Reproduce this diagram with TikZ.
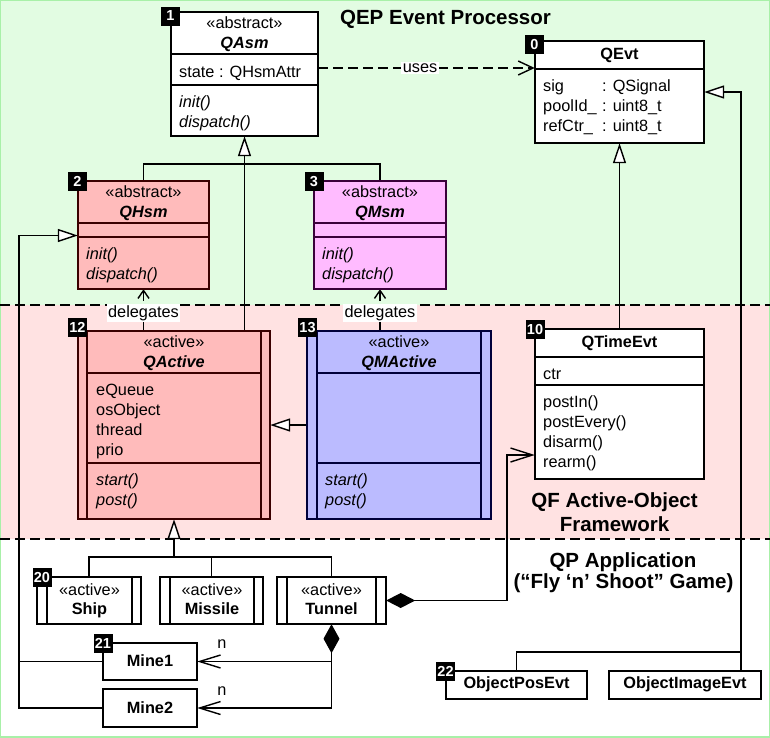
\documentclass[tikz,border=0pt]{standalone}
\usepackage{fontspec}
\setmainfont{Liberation Sans}
\usetikzlibrary{arrows.meta,fit}
\definecolor{bggreen}{HTML}{E2FCE2}
\definecolor{bgpink}{HTML}{FFE2E2}
\definecolor{bgborder}{HTML}{A8F0A8}
\definecolor{hsmfill}{HTML}{FFBBBB}
\definecolor{hsmline}{HTML}{3A0000}
\definecolor{msmfill}{HTML}{FFBBFF}
\definecolor{msmline}{HTML}{3A003A}
\definecolor{mafill}{HTML}{BBBBFF}
\definecolor{maline}{HTML}{00003A}
\newcommand\txtf{\fontsize{16.3}{20}\selectfont}
\newcommand\ttlf{\fontsize{20.5}{24}\selectfont\bfseries}
\newcommand\bdgf{\fontsize{14.5}{15}\selectfont\bfseries}
\newcommand\myTxLine[4][]{\node[txt,anchor=base west,#1] (#2) at #3 {#4};}
\newcommand\myCtLine[4][]{\node[txt,anchor=base,#1] (#2) at #3 {#4};}
\begin{document}
\begin{tikzpicture}[x=1pt,y=-1pt,line join=miter,
  txt/.style={inner sep=0pt,font=\txtf},
  lbl/.style={fill=white,inner sep=1.5pt,font=\txtf},
  ttl/.style={inner sep=0pt,font=\ttlf,anchor=base},
  badge/.style={fill=black,text=white,font=\bdgf,minimum size=19pt,inner sep=0pt},
  cls/.style={draw,line width=1.5pt,inner sep=0pt,fill=white},
  comp/.style={line width=1.3pt},
  conn/.style={line width=1.4pt},
  dsh/.style={dash pattern=on 10pt off 5pt},
  sepline/.style={line width=1.5pt,dash pattern=on 10pt off 5pt},
  inh/.style={conn,-{Triangle[fill=white,length=20pt,width=13pt]}},
]
\useasboundingbox (0,0) rectangle (770,737);
% regions
\fill[bggreen] (0,0) rectangle (770,305);
\fill[bgpink] (0,305) rectangle (770,539);
\fill[white] (0,539) rectangle (770,737);
\draw[bgborder,line width=2pt] (0,0) rectangle (770,737);
\draw[sepline] (0,305) -- (770,305);
\draw[sepline] (0,539) -- (770,539);

% titles
\node[ttl] (tqep) at (445.5,24) {QEP Event Processor};
\node[ttl] (tqf1) at (614.5,507) {QF Active-Object};
\node[ttl] (tqf2) at (614.5,531) {Framework};
\node[ttl] (tqp1) at (623,567) {QP Application};
\node[ttl] (tqp2) at (623.5,588) {(“Fly ‘n’ Shoot” Game)};

% box frames
\node[fit={(171,12)(318,136)},inner sep=0pt] (qasm) {};
\node[fit={(535,41)(704,143)},inner sep=0pt] (qevt) {};
\node[fit={(78,181)(209,289)},inner sep=0pt] (qhsm) {};
\node[fit={(314,181)(446,289)},inner sep=0pt] (qmsm) {};
\node[fit={(78,331)(270,519)},inner sep=0pt] (qactive) {};
\node[fit={(307,331)(491,519)},inner sep=0pt] (qmactive) {};
\node[fit={(535,329)(704,479)},inner sep=0pt] (qtime) {};
\node[fit={(37,577)(141,624)},inner sep=0pt] (ship) {};
\node[fit={(160,577)(263,624)},inner sep=0pt] (missile) {};
\node[fit={(277,577)(386,624)},inner sep=0pt] (tunnel) {};
\node[fit={(103,643)(197,680)},inner sep=0pt] (mine1) {};
\node[fit={(103,689)(197,727)},inner sep=0pt] (mine2) {};
\node[fit={(446,671)(587,699)},inner sep=0pt] (objpos) {};
\node[fit={(609,671)(761,699)},inner sep=0pt] (objimg) {};

% connectors
\draw[conn,dsh,-{Straight Barb[length=15pt,width=14pt]}] (qasm.east |- 0,68) -- node[lbl,pos=0.47] (uses) {uses} (qevt.west |- 0,68);
\coordinate (j1) at (244,164);
\draw[inh] (qactive.north -| qasm.south) -- (qasm.south);
\draw[conn] (qhsm.north) |- (j1) -| (qmsm.north);
\draw[conn,dsh,-{Straight Barb[length=8pt,width=11pt]}] (qactive.north -| qhsm.south) -- node[lbl,pos=0.42] (del1) {delegates} (qhsm.south);
\draw[conn,dsh,-{Straight Barb[length=8pt,width=11pt]}] (qmactive.north -| qmsm.south) -- node[lbl,pos=0.42] (del2) {delegates} (qmsm.south);
\draw[inh] (qmactive.west) -- (qactive.east);
\draw[inh] (qtime.north) -- (qevt.south);
\coordinate (rj) at (741,652);
\coordinate (rt) at (741,92);
\draw[conn] (objpos.north) |- (rj) -- (rj |- objimg.north);
\draw[inh] (rj) -- (rt) -- (rt -| qevt.east);
\coordinate (j2) at (174,557);
\draw[inh] (j2) -- (qactive.south);
\draw[conn] (ship.north) |- (j2) -| (tunnel.north);
\draw[conn] (missile.north) -- (missile.north |- j2);
\draw[conn,{Diamond[length=29pt,width=16pt]}-{Straight Barb[length=21pt,width=13pt]}] (tunnel.south) |- (mine2.east);
\draw[conn,-{Straight Barb[length=21pt,width=13pt]}] (tunnel.south |- mine1.east) -- (mine1.east);
\node[txt] (n1) at (222,644) {n};
\node[txt] (n2) at (222,691) {n};
\coordinate (tq) at (507,455);
\draw[conn,{Diamond[length=29pt,width=15pt]}-{Straight Barb[length=22pt,width=14pt]}] (tunnel.east) -| (tq) -- (tq -| qtime.west);
\coordinate (lt) at (19,235.5);
\draw[inh] (mine2.west) -| (lt) -- (lt -| qhsm.west);
\draw[conn] (mine1.west) -- (mine1.west -| lt);

% ---- boxes
% QAsm
\draw[cls] (qasm.north west) rectangle (qasm.south east);
\draw[comp] (qasm.west |- 0,54) -- (qasm.east |- 0,54);
\draw[comp] (qasm.west |- 0,85) -- (qasm.east |- 0,85);
\myCtLine{qasm-s}{(244.5,28)}{«abstract»}
\myCtLine{qasm-n}{(244.5,48)}{\bfseries\itshape QAsm}
\myTxLine{qasm-a}{(179,77)}{state : QHsmAttr}
\myTxLine{qasm-m1}{(179,107)}{\itshape init()}
\myTxLine{qasm-m2}{(179,127)}{\itshape dispatch()}
% QEvt
\draw[cls] (qevt.north west) rectangle (qevt.south east);
\draw[comp] (qevt.west |- 0,69) -- (qevt.east |- 0,69);
\myCtLine{qevt-n}{(619.5,59)}{\bfseries QEvt}
\myTxLine{qevt-a1}{(543,91.5)}{\makebox[59pt][l]{sig}: QSignal}
\myTxLine{qevt-a2}{(543,111.5)}{\makebox[59pt][l]{poolId\_}: uint8\_t}
\myTxLine{qevt-a3}{(543,131.5)}{\makebox[59pt][l]{refCtr\_}: uint8\_t}
% QHsm
\draw[cls,fill=hsmfill,draw=hsmline] (qhsm.north west) rectangle (qhsm.south east);
\draw[comp,hsmline] (qhsm.west |- 0,223) -- (qhsm.east |- 0,223);
\draw[comp,hsmline] (qhsm.west |- 0,237) -- (qhsm.east |- 0,237);
\myCtLine{qhsm-s}{(143.5,197)}{«abstract»}
\myCtLine{qhsm-n}{(143.5,217)}{\bfseries\itshape QHsm}
\myTxLine{qhsm-m1}{(86,259)}{\itshape init()}
\myTxLine{qhsm-m2}{(86,279)}{\itshape dispatch()}
% QMsm
\draw[cls,fill=msmfill,draw=msmline] (qmsm.north west) rectangle (qmsm.south east);
\draw[comp,msmline] (qmsm.west |- 0,223) -- (qmsm.east |- 0,223);
\draw[comp,msmline] (qmsm.west |- 0,237) -- (qmsm.east |- 0,237);
\myCtLine{qmsm-s}{(380,197)}{«abstract»}
\myCtLine{qmsm-n}{(380,217)}{\bfseries\itshape QMsm}
\myTxLine{qmsm-m1}{(322,259)}{\itshape init()}
\myTxLine{qmsm-m2}{(322,279)}{\itshape dispatch()}
% QActive
\draw[cls,fill=hsmfill,draw=hsmline] (qactive.north west) rectangle (qactive.south east);
\draw[comp,hsmline] (87,331) -- (87,519);
\draw[comp,hsmline] (261,331) -- (261,519);
\draw[comp,hsmline] (87,373) -- (261,373);
\draw[comp,hsmline] (87,463) -- (261,463);
\myCtLine{qact-s}{(174,347)}{«active»}
\myCtLine{qact-n}{(174,367)}{\bfseries\itshape QActive}
\myTxLine{qact-a1}{(96,395.5)}{eQueue}
\myTxLine{qact-a2}{(96,415.5)}{osObject}
\myTxLine{qact-a3}{(96,435.5)}{thread}
\myTxLine{qact-a4}{(96,455.5)}{prio}
\myTxLine{qact-m1}{(96,485)}{\itshape start()}
\myTxLine{qact-m2}{(96,505)}{\itshape post()}
% QMActive
\draw[cls,fill=mafill,draw=maline] (qmactive.north west) rectangle (qmactive.south east);
\draw[comp,maline] (317,331) -- (317,519);
\draw[comp,maline] (481,331) -- (481,519);
\draw[comp,maline] (317,373) -- (481,373);
\draw[comp,maline] (317,463) -- (481,463);
\myCtLine{qma-s}{(399,347)}{«active»}
\myCtLine{qma-n}{(399,367)}{\bfseries\itshape QMActive}
\myTxLine{qma-m1}{(325,485)}{\itshape start()}
\myTxLine{qma-m2}{(325,505)}{\itshape post()}
% QTimeEvt
\draw[cls] (qtime.north west) rectangle (qtime.south east);
\draw[comp] (qtime.west |- 0,357) -- (qtime.east |- 0,357);
\draw[comp] (qtime.west |- 0,385) -- (qtime.east |- 0,385);
\myCtLine{qtime-n}{(619.5,347)}{\bfseries QTimeEvt}
\myTxLine{qtime-a}{(543,379.5)}{ctr}
\myTxLine{qtime-m1}{(543,407.5)}{postIn()}
\myTxLine{qtime-m2}{(543,427.5)}{postEvery()}
\myTxLine{qtime-m3}{(543,447.5)}{disarm()}
\myTxLine{qtime-m4}{(543,467.5)}{rearm()}
% Ship, Missile, Tunnel
\draw[cls] (ship.north west) rectangle (ship.south east);
\draw[comp] (47,577) -- (47,624);
\draw[comp] (132,577) -- (132,624);
\myCtLine{ship-s}{(89.5,595)}{«active»}
\myCtLine{ship-n}{(89.5,614)}{\bfseries Ship}
\draw[cls] (missile.north west) rectangle (missile.south east);
\draw[comp] (170,577) -- (170,624);
\draw[comp] (254,577) -- (254,624);
\myCtLine{missile-s}{(212,595)}{«active»}
\myCtLine{missile-n}{(212,614)}{\bfseries Missile}
\draw[cls] (tunnel.north west) rectangle (tunnel.south east);
\draw[comp] (287,577) -- (287,624);
\draw[comp] (376,577) -- (376,624);
\myCtLine{tunnel-s}{(331.5,595)}{«active»}
\myCtLine{tunnel-n}{(331.5,614)}{\bfseries Tunnel}
% Mines
\draw[cls] (mine1.north west) rectangle (mine1.south east);
\myCtLine{mine1-n}{(150,666)}{\bfseries Mine1}
\draw[cls] (mine2.north west) rectangle (mine2.south east);
\myCtLine{mine2-n}{(150,713)}{\bfseries Mine2}
% events
\draw[cls] (objpos.north west) rectangle (objpos.south east);
\myCtLine{objpos-n}{(516.5,688)}{\bfseries ObjectPosEvt}
\draw[cls] (objimg.north west) rectangle (objimg.south east);
\myCtLine{objimg-n}{(685,688)}{\bfseries ObjectImageEvt}

% badges
\node[badge] (b1) at (170.5,16) {1};
\node[badge] (b0) at (534.5,44.5) {0};
\node[badge] (b2) at (77.5,181.5) {2};
\node[badge] (b3) at (314,181.5) {3};
\node[badge] (b12) at (77.5,327.5) {12};
\node[badge] (b13) at (307.5,327.5) {13};
\node[badge] (b10) at (535,329) {10};
\node[badge] (b20) at (42,577) {20};
\node[badge] (b21) at (103,643.5) {21};
\node[badge] (b22) at (445.5,671) {22};
\end{tikzpicture}
\end{document}
